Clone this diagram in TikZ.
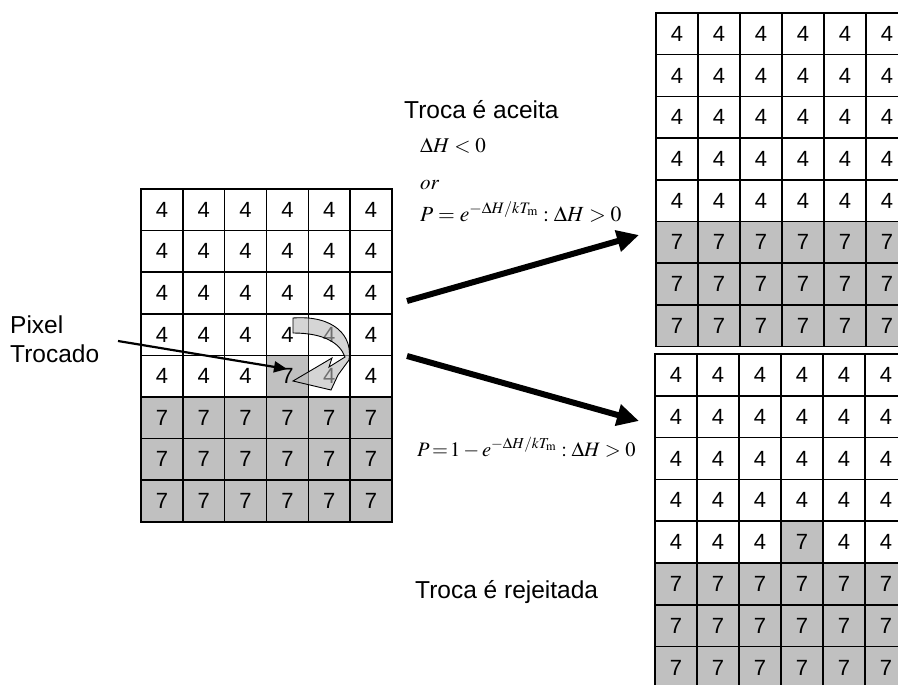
\documentclass[tikz,border=0pt]{standalone}
\usepackage{mathptmx}
\usepackage{fontspec}
\setmainfont{Liberation Sans}
\usetikzlibrary{arrows.meta}
\definecolor{silver}{HTML}{C0C0C0}
\begin{document}
\begin{tikzpicture}[x=1pt,y=-1pt,
  cellbox/.style={draw=black, line width=1.5pt, inner sep=0pt, anchor=center,
    font=\fontsize{22}{22}\selectfont},
  wcell/.style={cellbox, fill=white},
  gcell/.style={cellbox, fill=silver},
  lbl/.style={anchor=base west, inner sep=0pt, font=\fontsize{24.5}{24.5}\selectfont},
  eq/.style={anchor=base west, inner sep=0pt, font=\fontsize{21}{21}\selectfont},
  bigarrow/.style={line width=6pt, -{Triangle[length=22pt,width=21pt]}},
  thinarrow/.style={line width=2.2pt, -{Triangle[length=13pt,width=11pt]}},
  swaparrow/.style={draw=black, line width=0.9pt, fill=gray!55, fill opacity=0.6}
]
\useasboundingbox (0,0) rectangle (898,685);

% left grid
\foreach \r in {0,...,7}{
  \foreach \c in {0,...,5}{
    \ifnum\r<5 \def\v{4}\def\st{wcell}\else \def\v{7}\def\st{gcell}\fi
    \ifnum\r=4 \ifnum\c=3 \def\v{7}\def\st{gcell}\fi\fi
    \node[\st, minimum width=41.83pt, minimum height=41.6pt] (L-\r-\c)
      at (141+41.83*\c+20.915, 189+41.6*\r+20.8) {\v};
  }
}
% top right grid (accepted)
\foreach \r in {0,...,7}{
  \foreach \c in {0,...,5}{
    \ifnum\r<5 \def\v{4}\def\st{wcell}\else \def\v{7}\def\st{gcell}\fi
    \node[\st, minimum width=42pt, minimum height=41.7pt] (A-\r-\c)
      at (656+42*\c+21, 13+41.7*\r+20.85) {\v};
  }
}
% bottom right grid (rejected)
\foreach \r in {0,...,7}{
  \foreach \c in {0,...,5}{
    \ifnum\r<5 \def\v{4}\def\st{wcell}\else \def\v{7}\def\st{gcell}\fi
    \ifnum\r=4 \ifnum\c=3 \def\v{7}\def\st{gcell}\fi\fi
    \node[\st, minimum width=42pt, minimum height=41.8pt] (R-\r-\c)
      at (655+42*\c+21, 354+41.8*\r+20.9) {\v};
  }
}

% curved swap arrow
\path[swaparrow] (293,318) .. controls (334,315) and (353,336) .. (349,360)
  -- (338,375) -- (331,390) -- (293,381) -- (332,358) -- (329,367)
  -- (345,357) .. controls (340,343) and (324,333) .. (293,333) -- cycle;

% labels
\node[lbl] (pix1) at (10,333) {Pixel};
\node[lbl] (pix2) at (10,362) {Trocado};
\node[lbl] (acc) at (404,118) {Troca é aceita};
\node[lbl] (rej) at (415,598) {Troca é rejeitada};

\node[eq] (e1) at (420,153) {$\Delta H<0$};
\node[eq] (e2) at (420,189) {$\mathit{or}$};
\node[eq, font=\fontsize{21.6}{21.6}\selectfont] (e3) at (420,221) {$P=e^{-\Delta H/kT_{\mathrm{m}}}:\Delta H>0$};
\node[eq, font=\fontsize{20.5}{20.5}\selectfont] (e4) at (417,456) {$P\!=\!1-e^{-\Delta H/kT_{\mathrm{m}}}:\Delta H>0$};

% connectors
\coordinate (s1) at (407,301);
\coordinate (t1) at (639,235);
\coordinate (s2) at (407,356);
\coordinate (t2) at (639,421);
\coordinate (ps) at (118,341);
\coordinate (pt) at (287,369);
\draw[bigarrow] (s1) -- (t1);
\draw[bigarrow] (s2) -- (t2);
\draw[thinarrow] (ps) -- (pt);
\end{tikzpicture}
\end{document}
